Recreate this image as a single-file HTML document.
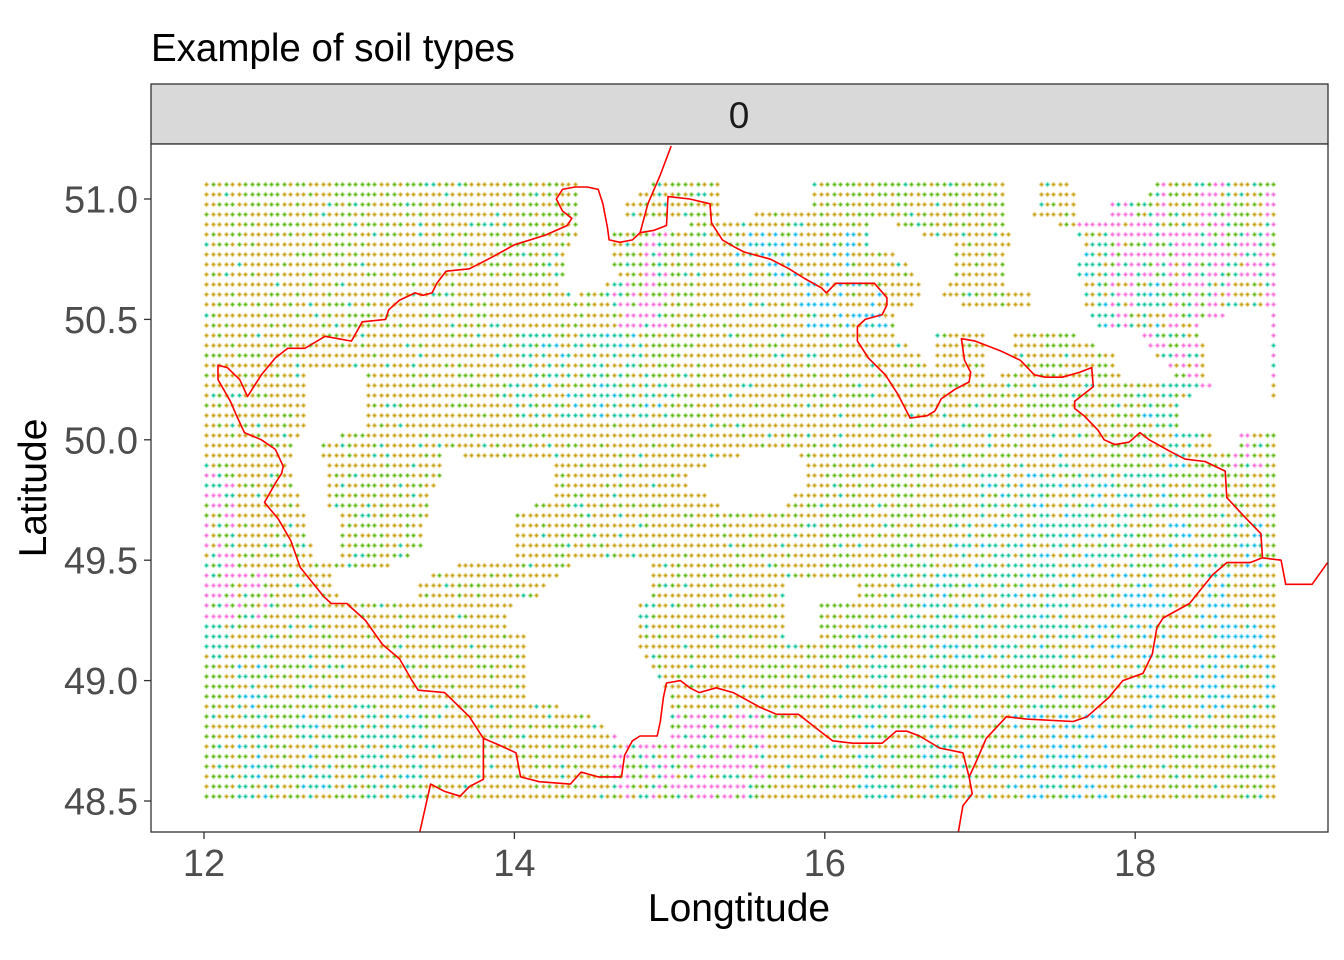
<!DOCTYPE html>
<html><head><meta charset="utf-8"><title>Example of soil types</title>
<style>
html,body{margin:0;padding:0;background:#fff;}
#wrap{position:relative;width:1344px;height:960px;overflow:hidden;font-family:"Liberation Sans",Arial,sans-serif;}
#wrap svg,#wrap canvas{position:absolute;left:0;top:0;}
</style></head>
<body>
<div id="wrap">
<svg id="base" width="1344" height="960">
  <text x="151" y="61" font-size="38.5" fill="#000">Example of soil types</text>
  <rect x="151" y="84" width="1177" height="60" fill="#D9D9D9" stroke="#333" stroke-width="1.3"/>
  <text x="739" y="128" font-size="37" text-anchor="middle" fill="#1A1A1A">0</text>
  <rect x="151" y="144" width="1177" height="688" fill="#fff"/>
  <g id="axes"></g>
  <text x="739" y="921" font-size="39" text-anchor="middle" fill="#000">Longtitude</text>
  <text transform="translate(46,488) rotate(-90)" font-size="39" text-anchor="middle" fill="#000">Latitude</text>
</svg>
<canvas id="dots" width="1344" height="960"></canvas>
<svg id="over" width="1344" height="960">
  <defs><clipPath id="pclip"><rect x="151" y="144" width="1177" height="688"/></clipPath></defs>
  <g id="borders" clip-path="url(#pclip)"></g>
  <rect x="151" y="144" width="1177" height="688" fill="none" stroke="#333" stroke-width="1.3"/>
</svg>
</div>
<script>
// ---- data ----
const xTicks = [12, 14, 16, 18];
const xTickLabels = ["12", "14", "16", "18"];
const yTicks = [48.5, 49.0, 49.5, 50.0, 50.5, 51.0];
const yTickLabels = ["48.5", "49.0", "49.5", "50.0", "50.5", "51.0"];
const gridLon0 = 12.015, gridLat0 = 51.062, gridStep = 1/24, gridCols = 166, gridRows = 62;
const soilZones = [
"gggogggooogg,,og,,,ogggggg,,qppgpgp",
"oooogooooggo,gpgobbobo.,,,..cpppppp",
"oooooooooooo,ppgooobbb,.,,,,cpcpp,q",
"oooo,oooooccccggoooooo,,o,,gg,pp,.q",
"o,,o.ooooocccccgooooooooooggggccq,,",
"oo,ooooo,,,ooooo,,,oooooooo,,ggcgpg",
"poooggggoooooooooooogogooccccccgggg",
"pooogggooooooooooooogogoccccccgbgbg",
"ppooooooooooooooooooggccccccobboboo",
"cooooooooooooooooooogcgcccccbbbobbo",
"gcggoooooooooooooogogcgcggggoobobobo",
"gcgcgccoooooopppppooocgcggbbbgogogog",
"gcgcgccoooooopppppooocgcgobcbgogogog"
];
const blankAreas = [
[[12.68,50.30],[13.02,50.30],[13.02,50.05],[12.76,50.00],[12.78,49.73],[12.89,49.71],[12.89,49.50],[12.70,49.50],[12.65,49.71],[12.55,49.87],[12.57,50.00],[12.68,50.05]],
[[13.55,49.94],[14.24,49.92],[14.24,49.75],[14.00,49.70],[13.99,49.52],[13.76,49.50],[13.53,49.46],[13.39,49.42],[13.35,49.33],[13.10,49.33],[12.91,49.34],[12.78,49.42],[12.91,49.47],[13.17,49.47],[13.33,49.52],[13.42,49.58],[13.44,49.75],[13.52,49.83]],
[[14.41,49.50],[14.88,49.50],[14.88,49.33],[14.79,49.31],[14.79,49.12],[14.88,49.07],[15.01,48.92],[15.01,48.75],[14.72,48.75],[14.61,48.80],[14.41,48.88],[14.10,48.92],[14.06,49.00],[14.06,49.21],[13.97,49.21],[13.97,49.31],[14.21,49.37],[14.21,49.42],[14.31,49.44]],
[[15.12,49.87],[15.48,49.94],[15.84,49.94],[15.87,49.83],[15.71,49.69],[15.45,49.69],[15.12,49.81]],
[[15.73,49.42],[15.97,49.42],[16.19,49.41],[16.19,49.34],[15.97,49.33],[15.97,49.15],[15.73,49.17]],
[[14.42,51.08],[14.89,51.08],[14.81,51.04],[14.72,51.00],[14.72,50.92],[15.13,50.91],[15.13,50.87],[14.60,50.86],[14.65,50.66],[14.51,50.63],[14.38,50.60],[14.29,50.62],[14.33,50.75],[14.41,50.87]],
[[15.34,51.08],[15.92,51.08],[15.93,50.96],[15.65,50.96],[15.48,50.92],[15.34,50.92]],
[[17.18,51.09],[17.38,51.09],[17.33,50.87],[17.15,50.87]],
[[17.58,51.09],[18.16,51.09],[18.07,51.00],[17.83,51.00],[17.82,50.91],[17.62,50.91],[17.61,51.00]],
[[16.28,50.91],[16.62,50.88],[17.15,50.92],[17.45,50.91],[17.57,50.87],[17.69,50.83],[17.63,50.74],[17.65,50.56],[17.71,50.53],[17.73,50.46],[18.03,50.46],[18.09,50.37],[18.19,50.33],[18.24,50.25],[17.81,50.25],[17.44,50.29],[17.32,50.33],[17.03,50.25],[16.74,50.25],[16.62,50.37],[16.48,50.41],[16.44,50.53],[16.58,50.56],[16.62,50.62],[16.58,50.70],[16.46,50.77],[16.28,50.81]],
[[18.41,50.51],[18.85,50.54],[18.85,50.19],[18.99,50.16],[18.99,50.04],[18.68,50.03],[18.67,49.96],[18.51,49.96],[18.50,50.05],[18.28,50.05],[18.28,50.16],[18.48,50.21],[18.45,50.39],[18.40,50.46]]
];
const dotIslands = [
[[16.62,50.92],[17.15,50.92],[17.20,50.83],[17.16,50.74],[17.15,50.63],[17.33,50.62],[17.33,50.54],[17.03,50.54],[16.74,50.58],[16.84,50.74],[16.84,50.83],[16.62,50.85]],
[[16.71,50.46],[17.03,50.46],[17.03,50.25],[16.71,50.25]],
[[17.22,50.46],[17.55,50.46],[17.85,50.36],[17.90,50.25],[17.44,50.25],[17.22,50.33]]
];
const borderLon = [14.81,14.76,14.68,14.61,14.60,14.57,14.54,14.47,14.39,14.31,14.27,14.31,14.37,14.34,14.20,14.00,13.86,13.71,13.56,13.50,13.47,13.41,13.36,13.26,13.19,13.17,13.02,12.95,12.78,12.65,12.54,12.46,12.37,12.28,12.23,12.15,12.09,12.09,12.17,12.21,12.26,12.37,12.46,12.51,12.50,12.46,12.39,12.48,12.56,12.62,12.77,12.82,12.92,13.04,13.15,13.26,13.34,13.38,13.55,13.71,13.80,13.91,14.01,14.04,14.16,14.36,14.43,14.54,14.69,14.71,14.76,14.81,14.92,14.94,14.96,14.98,15.07,15.13,15.19,15.30,15.41,15.58,15.69,15.83,15.97,16.05,16.18,16.37,16.46,16.53,16.61,16.74,16.89,16.93,16.98,17.04,17.17,17.30,17.60,17.69,17.83,17.92,18.05,18.11,18.14,18.18,18.35,18.50,18.59,18.74,18.82,18.81,18.69,18.59,18.58,18.45,18.32,18.23,18.09,18.03,17.96,17.87,17.80,17.76,17.67,17.61,17.61,17.67,17.73,17.72,17.64,17.53,17.42,17.35,17.26,17.13,16.97,16.88,16.90,16.94,16.93,16.84,16.75,16.71,16.66,16.55,16.47,16.39,16.28,16.21,16.21,16.26,16.37,16.40,16.40,16.32,16.16,16.07,16.01,15.98,15.87,15.77,15.65,15.48,15.42,15.34,15.27,15.26,15.13,14.99,14.98,14.90,14.81];
const borderLat = [50.86,50.83,50.82,50.83,50.88,50.98,51.04,51.05,51.05,51.04,51.00,50.95,50.92,50.89,50.85,50.81,50.76,50.71,50.70,50.65,50.61,50.60,50.61,50.58,50.54,50.50,50.49,50.41,50.43,50.38,50.38,50.34,50.27,50.18,50.25,50.30,50.31,50.25,50.16,50.10,50.03,50.00,49.96,49.89,49.86,49.82,49.74,49.67,49.58,49.47,49.35,49.32,49.32,49.25,49.15,49.09,49.00,48.96,48.95,48.85,48.76,48.73,48.70,48.60,48.58,48.57,48.62,48.60,48.60,48.69,48.75,48.77,48.77,48.83,48.93,48.99,49.00,48.97,48.95,48.97,48.95,48.89,48.86,48.86,48.79,48.75,48.74,48.74,48.79,48.79,48.77,48.72,48.70,48.60,48.67,48.76,48.85,48.84,48.83,48.85,48.93,49.00,49.03,49.11,49.22,49.26,49.32,49.44,49.49,49.49,49.51,49.61,49.69,49.76,49.87,49.91,49.92,49.95,50.00,50.03,49.99,49.98,50.00,50.04,50.10,50.13,50.16,50.19,50.22,50.30,50.28,50.26,50.26,50.27,50.33,50.37,50.41,50.42,50.33,50.28,50.24,50.21,50.17,50.12,50.10,50.09,50.19,50.27,50.34,50.41,50.47,50.50,50.52,50.56,50.59,50.65,50.65,50.65,50.61,50.63,50.67,50.71,50.75,50.78,50.80,50.83,50.90,50.98,51.00,51.01,50.89,50.87,50.86];
const extraLon = [[15.01,14.94,14.86,14.81],[13.80,13.80,13.71,13.65,13.55,13.46,13.39],[16.93,16.95,16.89,16.86],[18.82,18.94,18.97,19.14,19.24]];
const extraLat = [[51.22,51.10,50.98,50.86],[48.76,48.59,48.56,48.52,48.54,48.57,48.37],[48.60,48.53,48.48,48.37],[49.51,49.50,49.40,49.40,49.49]];

// ---- scales ----
const xS = lon => 204 + (lon - 12) * 155.2;
const yS = lat => 199 + (51 - lat) * 240.8;
const NS = "http://www.w3.org/2000/svg";

// ---- axes ----
const axes = document.getElementById('axes');
xTicks.forEach((t, i) => {
  const l = document.createElementNS(NS, 'line');
  l.setAttribute('x1', xS(t)); l.setAttribute('x2', xS(t));
  l.setAttribute('y1', 832); l.setAttribute('y2', 839);
  l.setAttribute('stroke', '#333'); l.setAttribute('stroke-width', '1.3');
  
  
  axes.appendChild(l);
  const tx = document.createElementNS(NS, 'text');
  tx.setAttribute('x', xS(t)); tx.setAttribute('y', 876);
  tx.setAttribute('text-anchor', 'middle'); tx.setAttribute('font-size', '38'); tx.setAttribute('fill', '#4D4D4D');
  tx.textContent = xTickLabels[i];
  
  
  axes.appendChild(tx);
});
yTicks.forEach((t, i) => {
  const l = document.createElementNS(NS, 'line');
  l.setAttribute('x1', 144); l.setAttribute('x2', 151);
  l.setAttribute('y1', yS(t)); l.setAttribute('y2', yS(t));
  l.setAttribute('stroke', '#333'); l.setAttribute('stroke-width', '1.3');
  
  
  axes.appendChild(l);
  const tx = document.createElementNS(NS, 'text');
  tx.setAttribute('x', 138); tx.setAttribute('y', yS(t) + 13.5);
  tx.setAttribute('text-anchor', 'end'); tx.setAttribute('font-size', '38'); tx.setAttribute('fill', '#4D4D4D');
  tx.textContent = yTickLabels[i];
  
  
  axes.appendChild(tx);
});

// ---- dots ----
const palettes = {
  o: [['#C49A00', .80], ['#53B400', .95], ['#00C094', 1]],
  g: [['#C49A00', .45], ['#53B400', .95], ['#00C094', 1]],
  c: [['#00C094', .45], ['#C49A00', .80], ['#53B400', .92], ['#00B6EB', 1]],
  b: [['#00B6EB', .40], ['#C49A00', .80], ['#53B400', .92], ['#00C094', 1]],
  p: [['#FB61D7', .50], ['#00C094', .70], ['#53B400', .90], ['#C49A00', 1]],
  q: [['#FB61D7', .70], ['#00C094', 1]]
};
function inPoly(px, py, poly) {
  let inside = false;
  for (let i = 0, j = poly.length - 1; i < poly.length; j = i++) {
    const xi = poly[i][0], yi = poly[i][1], xj = poly[j][0], yj = poly[j][1];
    if (((yi > py) !== (yj > py)) && (px < (xj - xi) * (py - yi) / (yj - yi) + xi)) inside = !inside;
  }
  return inside;
}
function texture(i, j) {
  let h = (i * 374761393 + j * 668265263) | 0;
  h = Math.imul(h ^ (h >>> 13), 1274126177);
  h = h ^ (h >>> 16);
  return ((h >>> 0) % 1000) / 1000;
}
const ctx = document.getElementById('dots').getContext('2d');
for (let r = 0; r < gridRows; r++) {
  const lat = gridLat0 - r * gridStep;
  for (let c = 0; c < gridCols; c++) {
    const lon = gridLon0 + c * gridStep;
    let blank = blankAreas.some(p => inPoly(lon, lat, p));
    if (blank && dotIslands.some(p => inPoly(lon, lat, p))) blank = false;
    if (blank) continue;
    const br = Math.min(soilZones.length - 1, Math.floor((gridLat0 - lat) / 0.2 + 1e-6));
    const bc = Math.floor((lon - gridLon0) / 0.2 + 1e-6);
    let z = (soilZones[br][bc] || 'o');
    if (z === ',' || z === '.') z = 'o';
    const pal = palettes[z] || palettes.o;
    const t = texture(c, r);
    let col = pal[pal.length - 1][0];
    for (const [cc, cum] of pal) { if (t < cum) { col = cc; break; } }
    const x = Math.round(xS(lon)) + 0.5, y = Math.round(yS(lat)) + 0.5;
    ctx.fillStyle = col;
    ctx.fillRect(x - 2, y - 0.75, 4, 1.5);
    ctx.fillRect(x - 0.75, y - 2, 1.5, 4);
  }
}

// ---- borders ----
const bg = document.getElementById('borders');
function addLine(lons, lats, closed, name) {
  const p = document.createElementNS(NS, 'path');
  let d = lons.map((lo, k) => (k ? 'L' : 'M') + xS(lo).toFixed(1) + ',' + yS(lats[k]).toFixed(1)).join('');
  if (closed) d += 'Z';
  p.setAttribute('d', d);
  p.setAttribute('fill', 'none'); p.setAttribute('stroke', '#FF0000'); p.setAttribute('stroke-width', '1.6');
  p.setAttribute('stroke-linejoin', 'round');
  
  
  bg.appendChild(p);
}
addLine(borderLon, borderLat, true, 'country-border');
extraLon.forEach((lo, k) => addLine(lo, extraLat[k], false, 'neighbor-border'));
</script>
</body></html>
